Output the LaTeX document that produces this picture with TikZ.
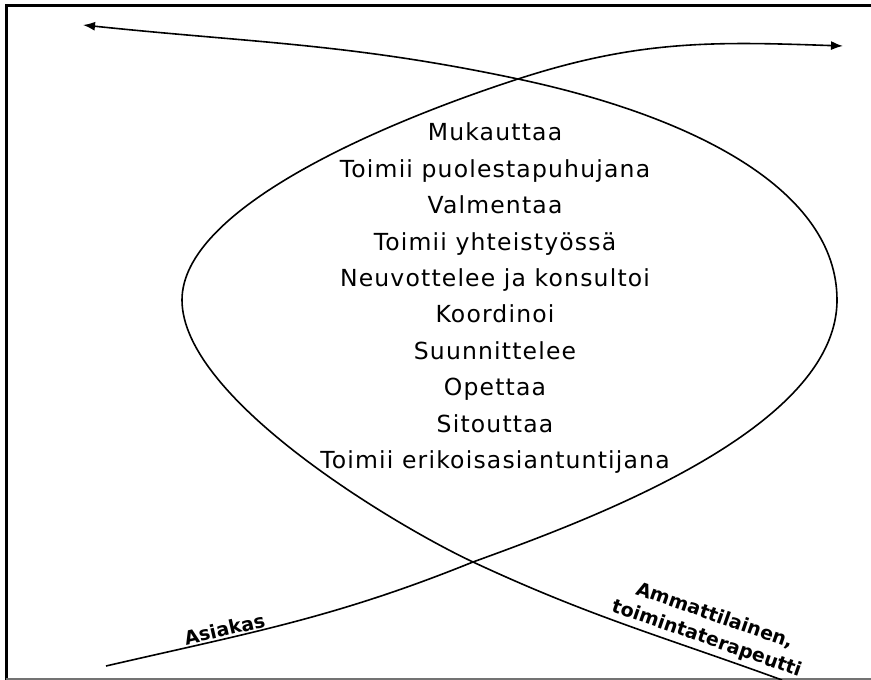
\documentclass[tikz,border=0pt]{standalone}
\usepackage{fontspec}
\setmainfont{DejaVu Sans}
\newfontfamily\listfont[LetterSpace=5]{DejaVu Sans}
\usetikzlibrary{positioning,arrows.meta}

\begin{document}
\begin{tikzpicture}%
  [x=1pt, y=1pt,
   >={Latex[length=12pt,width=9pt]},
   node distance=36.4pt,
   on grid,
   role/.style={inner sep=0pt, text height=17pt, text depth=5pt,
                font=\listfont\fontsize{23.5}{26}\selectfont},
   side/.style={inner sep=1.5pt, align=center, font=\fontsize{19}{24}\selectfont\bfseries},
   curve/.style={draw=black, line width=1.6pt}
  ]
\useasboundingbox (0,0) rectangle (871,680);

% frame
\draw[line width=3pt] (6,0) -- (6,674) -- (871,674);
\draw[line width=2pt, black!55] (6,1) -- (871,1);

% roles in the middle
\node[role] (mukauttaa)              at (495,545) {Mukauttaa};
\node[role] (puolesta)  [below=of mukauttaa]     {Toimii puolestapuhujana};
\node[role] (valmentaa) [below=of puolesta]      {Valmentaa};
\node[role] (yhteistyo) [below=of valmentaa]     {Toimii yhteistyössä};
\node[role] (neuvottelee) [below=of yhteistyo]   {Neuvottelee ja konsultoi};
\node[role] (koordinoi) [below=of neuvottelee]   {Koordinoi};
\node[role] (suunnittelee) [below=of koordinoi]  {Suunnittelee};
\node[role] (opettaa)   [below=of suunnittelee]  {Opettaa};
\node[role] (sitouttaa) [below=of opettaa]       {Sitouttaa};
\node[role] (erikois)   [below=of sitouttaa]     {Toimii erikoisasiantuntijana};

% crossings, bulges and ends of the two lines
\coordinate (askstart)  at (106,14);
\coordinate (profstart) at (782,0);
\coordinate (lowx)      at (473,118);
\coordinate (topx)      at (518,601);
\coordinate (lbulge)    at (182,380);
\coordinate (rbulge)    at (837,380);
\coordinate (lefttip)   at (83,655);
\coordinate (righttip)  at (843,634);

%   FROM        CONTROLS / OUT-IN                         TO
\draw[curve,->]
    (askstart)  to[out=13,in=-158]
                node[side, sloped, above, pos=0.31] (asiakas) {Asiakas}  (lowx)
                .. controls +(20:120) and +(-90:130) ..   (rbulge)
                .. controls +(90:110) and +(-12:180) ..   (topx)
                to[out=168,in=-6]                         (lefttip);
\draw[curve,->]
    (profstart) to[out=160,in=-25]
                node[side, sloped, above, pos=0.24, yshift=2pt] (ammatti) {Ammattilainen,\\toimintaterapeutti} (lowx)
                .. controls +(155:80) and +(-90:100) ..   (lbulge)
                .. controls +(90:90) and +(-162:150) ..   (topx)
                to[out=18,in=178]                         (righttip);
\end{tikzpicture}
\end{document}
